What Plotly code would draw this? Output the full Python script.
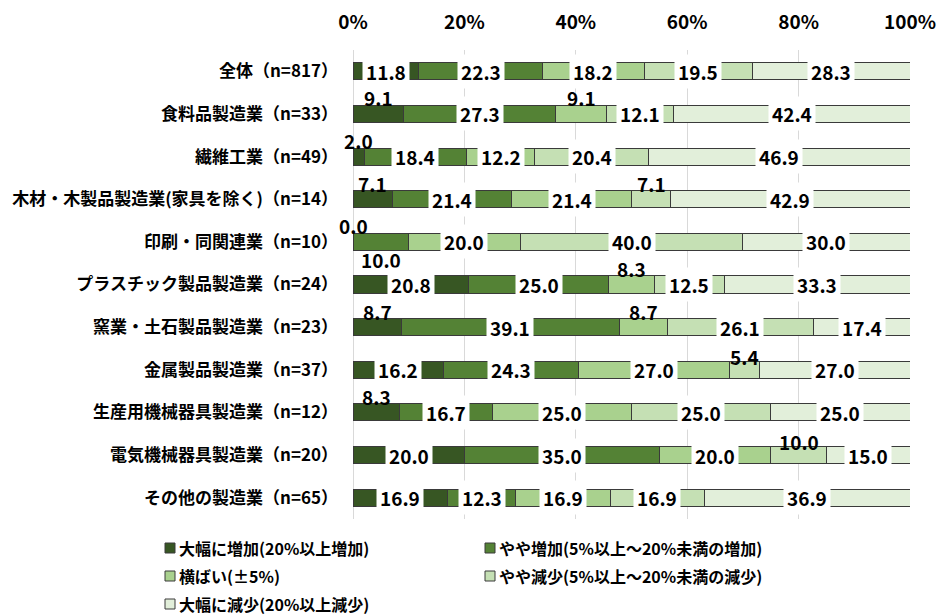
import plotly.graph_objects as go
import numpy as np

categories = [
    "全体（n=817）",
    "食料品製造業（n=33）",
    "繊維工業（n=49）",
    "木材・木製品製造業(家具を除く)（n=14）",
    "印刷・同関連業（n=10）",
    "プラスチック製品製造業（n=24）",
    "窯業・土石製品製造業（n=23）",
    "金属製品製造業（n=37）",
    "生産用機械器具製造業（n=12）",
    "電気機械器具製造業（n=20）",
    "その他の製造業（n=65）",
]
series_names = [
    "大幅に増加(20%以上増加)",
    "やや増加(5%以上～20%未満の増加)",
    "横ばい(±5%)",
    "やや減少(5%以上～20%未満の減少)",
    "大幅に減少(20%以上減少)",
]
big_increase = [11.8, 9.1, 2.0, 7.1, 0.0, 20.8, 8.7, 16.2, 8.3, 20.0, 16.9]
slight_increase = [22.3, 27.3, 18.4, 21.4, 10.0, 25.0, 39.1, 24.3, 16.7, 35.0, 12.3]
flat = [18.2, 9.1, 12.2, 21.4, 20.0, 8.3, 8.7, 27.0, 25.0, 20.0, 16.9]
slight_decrease = [19.5, 12.1, 20.4, 7.1, 40.0, 12.5, 26.1, 5.4, 25.0, 10.0, 16.9]
big_decrease = [28.3, 42.4, 46.9, 42.9, 30.0, 33.3, 17.4, 27.0, 25.0, 15.0, 36.9]
tick_vals = [0, 20, 40, 60, 80, 100]
tick_text = ["0%", "20%", "40%", "60%", "80%", "100%"]

series = [big_increase, slight_increase, flat, slight_decrease, big_decrease]
colors = ["#375623", "#548235", "#A9D18E", "#C5E0B4", "#E2EFDA"]

# style: label placement overrides (row, segment) -> yshift px
LABEL_SHIFT_OVERRIDE = {(4, 1): -18, (9, 3): 14, (7, 3): 13}

FONT = "Noto Sans CJK JP"
NUM_FONT = dict(family=FONT, size=19, color="black", weight="bold")

fig = go.Figure()
for name, vals, col in zip(series_names, series, colors):
    fig.add_trace(go.Bar(
        y=categories, x=vals, name=name, orientation="h",
        marker=dict(color=col, line=dict(color="#3a3a3a", width=1)),
        showlegend=False,
    ))

arr = np.array(series)  # shape (5, n)
totals = arr.sum(axis=0)
norm = arr / totals * 100
cum = np.cumsum(norm, axis=0)
annotations = []
for i, cat in enumerate(categories):
    for j in range(len(series)):
        v = series[j][i]
        right = cum[j, i]
        left = right - norm[j, i]
        center = (left + right) / 2
        txt = f"{v:.1f}"
        if (i, j) in LABEL_SHIFT_OVERRIDE:
            annotations.append(dict(x=center, y=cat, xref="x", yref="y", text=txt,
                                    showarrow=False, yshift=LABEL_SHIFT_OVERRIDE[(i, j)],
                                    font=NUM_FONT))
        elif v < 10:
            annotations.append(dict(x=center, y=cat, xref="x", yref="y", text=txt,
                                    showarrow=False, yshift=16, font=NUM_FONT))
        else:
            annotations.append(dict(x=center, y=cat, xref="x", yref="y", text=txt,
                                    showarrow=False, bgcolor="white", borderpad=3,
                                    font=NUM_FONT))

# manual legend (pixel -> paper conversion)
L, R, T, B = 353, 910, 50, 519
W, H = R - L, B - T
def px(x):
    return (x - L) / W
def py(y):
    return (B - y) / H

legend_pos = [(165, 548), (485, 548), (165, 576), (485, 576), (165, 604)]
shapes = []
for (lx, ly), name, col in zip(legend_pos, series_names, colors):
    shapes.append(dict(type="rect", xref="paper", yref="paper",
                       x0=px(lx), x1=px(lx + 10), y0=py(ly + 5), y1=py(ly - 5),
                       fillcolor=col, line=dict(color="#3a3a3a", width=1)))
    annotations.append(dict(x=px(lx + 12), y=py(ly), xref="paper", yref="paper",
                            xanchor="left", yanchor="middle", text=name, showarrow=False,
                            font=dict(family=FONT, size=16, color="black", weight="bold")))

fig.update_layout(
    barmode="stack",
    barnorm="percent",
    bargap=0.6,
    width=939, height=615,
    margin=dict(l=L, r=939 - R, t=T, b=615 - B, autoexpand=False),
    plot_bgcolor="white", paper_bgcolor="white",
    annotations=annotations,
    shapes=shapes,
    xaxis=dict(side="top", range=[0, 100], tickvals=tick_vals, ticktext=tick_text,
               showgrid=True, gridcolor="#d9d9d9", gridwidth=1,
               zeroline=True, zerolinecolor="#d9d9d9", zerolinewidth=1,
               showline=False, ticks="", fixedrange=True, automargin=False,
               ticklabelstandoff=16,
               tickfont=dict(family=FONT, size=19, color="black", weight="bold")),
    yaxis=dict(autorange="reversed", type="category", showgrid=False,
               ticks="", ticklabelstandoff=14, automargin=False,
               tickfont=dict(family=FONT, size=17, color="black", weight="bold")),
)

fig.write_html("out.html")
